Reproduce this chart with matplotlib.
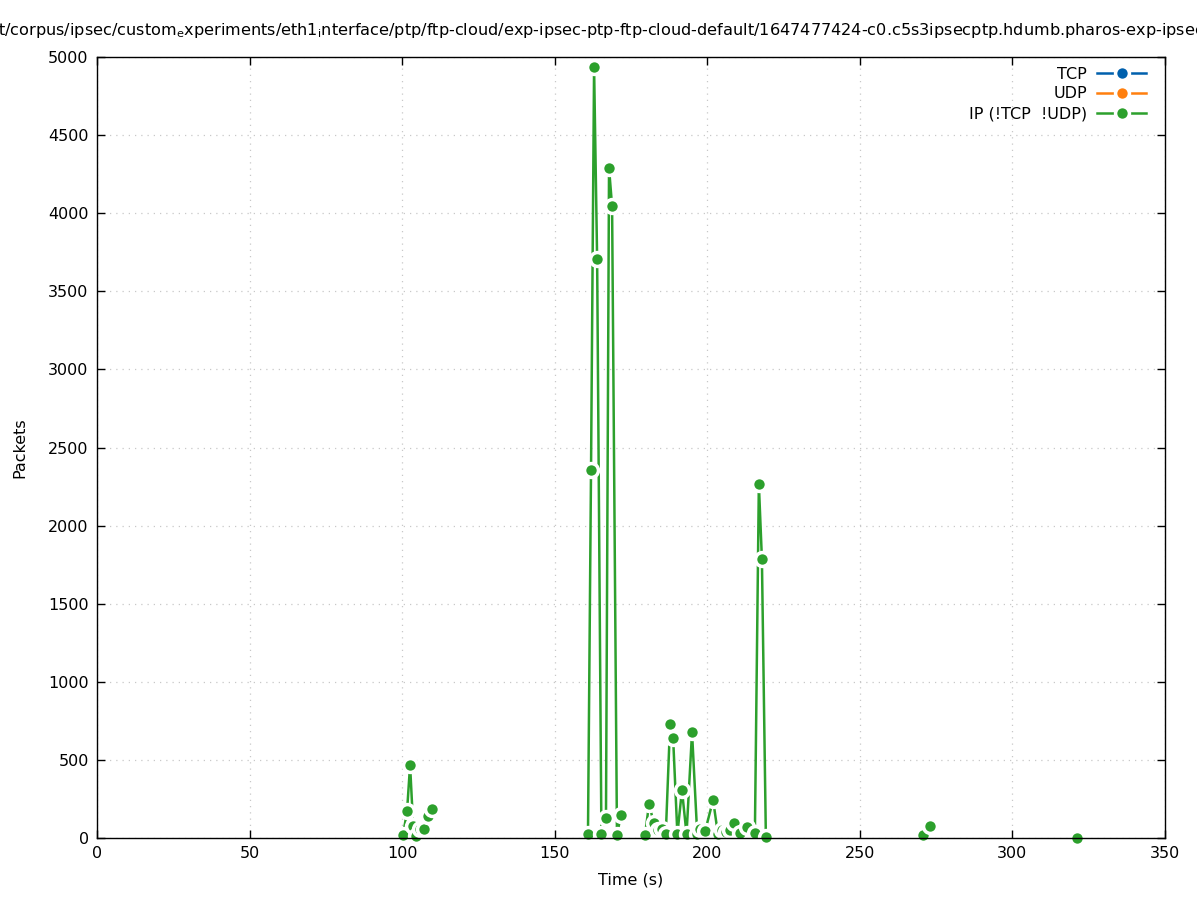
import numpy as np
import matplotlib
matplotlib.use('Agg')
import matplotlib.pyplot as plt
from matplotlib.lines import Line2D

nan = np.nan

# packets per interval, gaps (nan) where gnuplot breaks the line
ip_time = [100.3, 101.6, 102.6, 103.6, 104.5, 105.9, 107.2, 108.5, 109.8, nan,
           160.9, 161.9, 162.9, 163.9, 165.3, 166.8, 167.8, 168.8, 170.4, 171.7, nan,
           179.6, 180.9, 182.5, 183.8, 185.1, 186.4, 187.8, 188.8, 190.2, 191.7,
           193.2, 195.0, 196.7, 197.6, 199.3, 201.9, 203.5, 204.8, 206.1, 207.4,
           208.8, 210.7, 213.0, 215.6, 216.9, 217.9, 219.2, nan,
           270.6, 273.0, nan,
           321.2]
ip_pkts = [20, 170, 467, 80, 15, 60, 60, 140, 186, nan,
           25, 2356, 4936, 3707, 25, 128, 4289, 4046, 20, 147, nan,
           20, 216, 95, 50, 55, 25, 728, 642, 25, 307,
           25, 677, 25, 60, 45, 243, 25, 50, 40, 50,
           94, 30, 72, 30, 2266, 1786, 5, nan,
           20, 77, nan,
           2]
tcp_time = []
tcp_pkts = []
udp_time = []
udp_pkts = []

labels = ['TCP', 'UDP', 'IP (!TCP  !UDP)']
colors = ['#0060ad', '#ff7f0e', '#2ca02c']

title = ('t/corpus/ipsec/custom$_{\\mathrm{e}}$xperiments/eth1$_{\\mathrm{i}}$nterface/ptp/ftp-cloud/'
         'exp-ipsec-ptp-ftp-cloud-default/1647477424-c0.c5s3ipsecptp.hdumb.pharos-exp-ipsec-ptp')

plt.rcParams['font.family'] = ['DejaVu Sans']
fig = plt.figure(figsize=(11.97, 9), dpi=100)
ax = fig.add_axes([97/1197, 1-838/900, (1165-97)/1197, (838-57)/900])

ms, mew, lw = 10, 2.5, 1.8
series = [(tcp_time, tcp_pkts), (udp_time, udp_pkts), (ip_time, ip_pkts)]
for (t, v), c in zip(series, colors):
    if len(t) == 0:
        continue
    ax.plot(t, v, color=c, lw=lw, zorder=2)
    ax.plot(t, v, ls='none', marker='o', ms=ms, mfc=c, mec='white', mew=mew,
            zorder=3, clip_on=False)

ax.set_xlim(0, 350)
ax.set_ylim(0, 5000)
ax.set_xticks(np.arange(0, 351, 50))
ax.set_yticks(np.arange(0, 5001, 500))
ax.tick_params(direction='in', length=6, top=True, right=True, labelsize=11.5,
               width=1, pad=6)
ax.grid(True, color='#c8c8c8', linestyle=(0, (1, 4)), linewidth=0.9)
for s in ax.spines.values():
    s.set_zorder(5)
    s.set_linewidth(1)

ax.set_xlabel('Time (s)', fontsize=11.5, labelpad=8)
ax.set_ylabel('Packets', fontsize=11.5, labelpad=15)

fig.text(-0.002, 1-30/900, title, fontsize=11.6, ha='left', va='center')

handles = [Line2D([], [], color=c, lw=lw, marker='o', ms=ms, mfc=c, mec='white', mew=mew)
           for c in colors]
ax.legend(handles, labels, loc='upper right', frameon=False, markerfirst=False,
          fontsize=11.5, handlelength=3.1, numpoints=1, labelspacing=0.3,
          borderaxespad=0.3, handletextpad=0.6, bbox_to_anchor=(0.993, 1.002))

fig.savefig('out.png', dpi=100)
